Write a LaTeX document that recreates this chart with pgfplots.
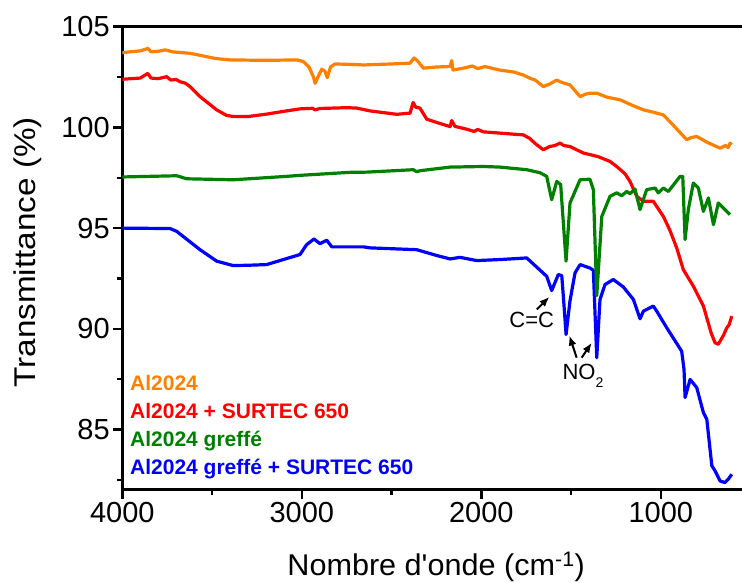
\documentclass[border=0pt]{standalone}
\usepackage{fontspec}
\setmainfont{Liberation Sans}
\usepackage{pgfplots}
\pgfplotsset{compat=1.18}
\usetikzlibrary{arrows.meta}
\definecolor{cOrange}{RGB}{255,128,0}
\definecolor{cRed}{RGB}{255,0,0}
\definecolor{cGreen}{RGB}{0,128,0}
\definecolor{cBlue}{RGB}{0,0,255}
\begin{document}
\begin{tikzpicture}
\begin{axis}[
 name=ax, at={(0,0)}, anchor=south west,
 scale only axis, width=619.7pt, height=463.3pt,
 x dir=reverse, xmin=548, xmax=4000, ymin=82, ymax=105,
 axis x line*=bottom, axis y line*=left,
 axis line style={line width=3pt},
 xtick={1000,2000,3000,4000}, minor xtick={1500,2500,3500},
 ytick={85,90,95,100,105}, minor ytick={82.5,87.5,92.5,97.5,102.5},
 tick align=outside, major tick length=9pt, minor tick length=5pt,
 every tick/.style={line width=2.5pt, black},
 tick label style={font=\fontsize{29}{29}\selectfont},
 /pgf/number format/assume math mode=true,
 /pgf/number format/1000 sep={},
 xlabel={\scalebox{1.02}[1]{Nombre d\textquotesingle onde (cm\textsuperscript{-1})}},
 ylabel={\scalebox{1.11}[1]{Transmittance (\%)}},
 label style={font=\fontsize{30}{30}\selectfont},
 xlabel style={at={(axis description cs:0.5065,-0.1836)}, anchor=base},
 ylabel style={at={(axis description cs:-0.1403,0.513)}, anchor=base},
 every axis plot/.append style={line width=3.2pt, line join=round, no markers},
]
% Al2024
\addplot[cOrange] coordinates {(4000,103.71)(3960,103.75)(3900,103.80)(3857,103.92)(3840,103.75)(3800,103.78)(3760,103.85)(3720,103.75)(3680,103.72)(3623,103.68)(3550,103.55)(3480,103.42)(3400,103.35)(3200,103.33)(3027,103.35)(2992,103.27)(2960,103.0)(2935,102.5)(2926,102.19)(2905,102.6)(2889,102.89)(2872,102.8)(2858,102.47)(2840,103.0)(2815,103.15)(2700,103.12)(2657,103.10)(2500,103.15)(2397,103.19)(2375,103.45)(2355,103.3)(2323,102.94)(2250,103.0)(2174,103.02)(2165,103.32)(2158,102.85)(2100,102.94)(2050,103.05)(2020,102.92)(1979,103.02)(1900,102.85)(1820,102.75)(1766,102.60)(1729,102.44)(1700,102.35)(1655,102.03)(1620,102.15)(1580,102.35)(1562,102.27)(1540,102.2)(1506,102.11)(1450,101.53)(1420,101.65)(1395,101.70)(1357,101.70)(1300,101.5)(1227,101.37)(1160,101.1)(1097,100.87)(1040,100.75)(986,100.62)(930,100.1)(856,99.39)(830,99.5)(800,99.55)(740,99.25)(670,98.97)(640,99.1)(625,99.0)(614,99.22)(605,99.15)};
% Al2024 + SURTEC 650
\addplot[cRed] coordinates {(4000,102.39)(3950,102.42)(3900,102.45)(3858,102.68)(3840,102.45)(3800,102.42)(3753,102.52)(3730,102.35)(3700,102.38)(3679,102.27)(3650,102.2)(3623,102.03)(3567,101.53)(3474,100.87)(3420,100.6)(3382,100.54)(3300,100.54)(3196,100.66)(3100,100.8)(3010,100.92)(2940,100.95)(2926,100.87)(2900,100.94)(2825,100.96)(2750,100.98)(2694,100.96)(2620,100.82)(2471,100.65)(2397,100.71)(2380,101.24)(2365,101.0)(2342,100.96)(2304,100.41)(2250,100.25)(2174,100.04)(2165,100.34)(2147,100.05)(2081,99.91)(2040,99.8)(2020,99.9)(1989,99.78)(1900,99.72)(1800,99.65)(1766,99.63)(1730,99.45)(1700,99.2)(1655,98.89)(1620,99.05)(1590,99.1)(1562,99.22)(1540,99.1)(1506,99.05)(1432,98.73)(1350,98.55)(1283,98.31)(1246,98.06)(1200,97.7)(1172,97.32)(1134,96.58)(1097,96.33)(1042,96.33)(986,95.58)(950,94.9)(911,94.0)(875,92.94)(819,92.12)(763,91.13)(720,89.8)(698,89.31)(680,89.23)(650,89.7)(633,90.05)(620,90.2)(605,90.63)};
% Al2024 greffe + SURTEC 650
\addplot[cBlue] coordinates {(4000,95.0)(3734,94.98)(3697,94.84)(3567,93.93)(3474,93.36)(3382,93.14)(3289,93.16)(3196,93.19)(3010,93.69)(2973,94.18)(2932,94.46)(2899,94.23)(2861,94.40)(2833,94.07)(2657,94.07)(2620,94.02)(2360,93.93)(2248,93.64)(2174,93.47)(2119,93.55)(2026,93.39)(1896,93.44)(1747,93.52)(1636,92.61)(1608,91.90)(1571,92.70)(1552,92.64)(1543,91.6)(1528,89.72)(1506,91.4)(1478,92.78)(1450,93.19)(1395,93.02)(1376,92.91)(1357,88.57)(1339,91.46)(1311,92.20)(1265,92.45)(1209,92.08)(1153,91.46)(1116,90.50)(1097,90.88)(1042,91.13)(1023,90.88)(967,90.05)(884,88.89)(871,87.99)(865,86.59)(837,87.49)(800,87.08)(763,85.84)(744,85.51)(716,83.20)(698,82.95)(670,82.45)(643,82.37)(624,82.54)(605,82.78)};
% Al2024 greffe
\addplot[cGreen] coordinates {(4000,97.54)(3697,97.60)(3641,97.45)(3382,97.40)(3084,97.57)(3010,97.62)(2731,97.77)(2638,97.78)(2379,97.90)(2360,97.80)(2342,97.85)(2174,98.03)(1989,98.06)(1896,98.03)(1747,97.90)(1673,97.75)(1636,97.57)(1608,96.41)(1580,97.32)(1558,97.16)(1545,95.5)(1528,93.36)(1506,96.25)(1450,97.40)(1395,97.43)(1376,96.91)(1357,91.65)(1329,95.58)(1283,96.58)(1246,96.75)(1218,96.61)(1190,96.82)(1172,96.71)(1144,96.94)(1116,95.92)(1079,96.91)(1032,96.99)(1014,96.75)(986,96.99)(958,96.82)(893,97.57)(878,97.57)(865,94.43)(847,95.92)(819,97.24)(791,96.99)(763,95.83)(735,96.50)(707,95.17)(680,96.25)(652,96.0)(615,95.67)};
% annotations
\node[anchor=base, inner sep=0, font=\fontsize{22}{22}\selectfont] at (axis cs:1719,90.07) {C=C};
\node[anchor=base, inner sep=0, font=\fontsize{22}{22}\selectfont] at (axis cs:1434,87.49) {NO\raisebox{-0.35em}{\fontsize{14}{14}\selectfont 2}};
\draw[-{Latex[length=10pt,width=8pt]}, line width=2pt] (axis cs:1691,90.96) -- (axis cs:1621,91.59);
\draw[-{Latex[length=10pt,width=8pt]}, line width=2pt] (axis cs:1469,88.57) -- (axis cs:1510,89.67);
\draw[-{Latex[length=10pt,width=8pt]}, line width=2pt] (axis cs:1441,88.57) -- (axis cs:1385,89.31);
% legend
\node[anchor=base west, inner sep=0, font=\fontsize{21}{21}\selectfont\bfseries, text=cOrange] at (axis cs:3957,86.92) {Al2024};
\node[anchor=base west, inner sep=0, font=\fontsize{21}{21}\selectfont\bfseries, text=cRed] at (axis cs:3957,85.53) {Al2024 + SURTEC 650};
\node[anchor=base west, inner sep=0, font=\fontsize{21}{21}\selectfont\bfseries, text=cGreen] at (axis cs:3957,84.15) {Al2024 greffé};
\node[anchor=base west, inner sep=0, font=\fontsize{21}{21}\selectfont\bfseries, text=cBlue] at (axis cs:3957,82.76) {Al2024 greffé + SURTEC 650};
\end{axis}
\draw[line width=3pt, line cap=rect] (ax.north west) -- (ax.north east);
\pgfresetboundingbox
\path[use as bounding box] (-122.3pt,-93pt) rectangle (619.7pt,490pt);
\end{tikzpicture}
\end{document}
